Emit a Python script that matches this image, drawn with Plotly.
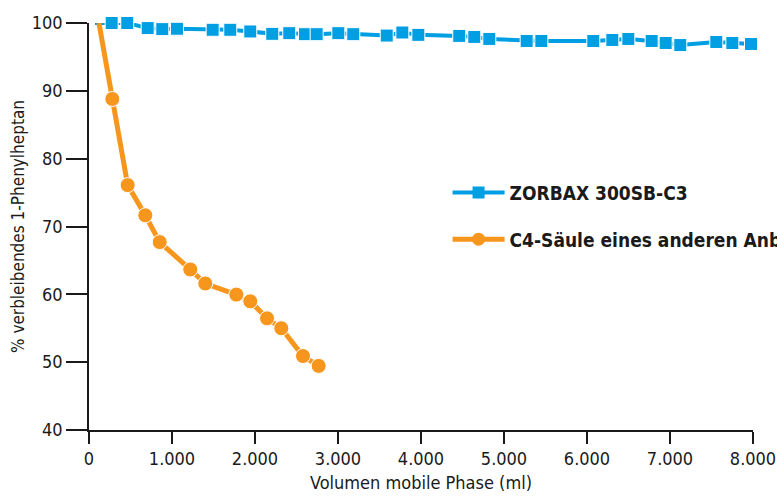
import plotly.graph_objects as go

# Data
zorbax_x = [72, 273, 461, 707, 883, 1060, 1490, 1702, 1943, 2208, 2413, 2602, 2743, 3004, 3184,
            3587, 3775, 3968, 4461, 4642, 4823, 5273, 5450, 6076, 6305, 6498, 6779, 6948, 7124,
            7558, 7751, 7976]
zorbax_y = [100.0, 100.0, 100.0, 99.25, 99.1, 99.15, 99.0, 99.0, 98.75, 98.4, 98.5, 98.35, 98.35,
            98.5, 98.35, 98.15, 98.6, 98.25, 98.1, 97.95, 97.65, 97.35, 97.35, 97.35, 97.5, 97.65,
            97.35, 97.05, 96.75, 97.2, 97.05, 96.9]

c4_x = [120, 281, 466, 678, 852, 1220, 1401, 1775, 1943, 2145, 2317, 2578, 2767]
c4_y = [100.0, 88.8, 76.1, 71.65, 67.7, 63.66, 61.6, 59.96, 58.97, 56.46, 55.0, 50.9, 49.45]

x_tickvals = [0, 1000, 2000, 3000, 4000, 5000, 6000, 7000, 8000]
x_ticktext = ["0", "1.000", "2.000", "3.000", "4.000", "5.000", "6.000", "7.000", "8.000"]
y_tickvals = [40, 50, 60, 70, 80, 90, 100]

series_names = ["ZORBAX 300SB-C3", "C4-Säule eines anderen Anbieters"]

BLUE = "#009FE3"
ORANGE = "#F7961D"
FONT = "DejaVu Sans Condensed, Liberation Sans Narrow, sans-serif"
TXT = "#1a1a1a"

fig = go.Figure()
fig.add_trace(go.Scatter(
    x=zorbax_x, y=zorbax_y, name=series_names[0], mode="lines+markers",
    line=dict(color=BLUE, width=4),
    marker=dict(symbol="square", size=[0] + [13] * (len(zorbax_x) - 1), color=BLUE, opacity=1),
    showlegend=False, cliponaxis=False,
))
fig.add_trace(go.Scatter(
    x=c4_x, y=c4_y, name=series_names[1], mode="lines+markers",
    line=dict(color=ORANGE, width=5),
    marker=dict(symbol="circle", size=[0] + [15] * (len(c4_x) - 1), color=ORANGE, opacity=1),
    showlegend=False, cliponaxis=False,
))
# legend entries
fig.add_trace(go.Scatter(
    x=[None], y=[None], name=series_names[0], mode="lines+markers",
    line=dict(color=BLUE, width=4), marker=dict(symbol="square", size=12, color=BLUE),
    legendgroup="a",
))
fig.add_trace(go.Scatter(
    x=[None], y=[None], name=series_names[1], mode="lines+markers",
    line=dict(color=ORANGE, width=5), marker=dict(symbol="circle", size=13, color=ORANGE),
    legendgroup="b",
))

fig.update_layout(
    width=777, height=496,
    margin=dict(l=89, r=24, t=23, b=66, autoexpand=False),
    paper_bgcolor="white", plot_bgcolor="white",
    font=dict(family=FONT, size=18, color=TXT),
    showlegend=True,
    legend=dict(
        x=0.54, y=0.63, xanchor="left", yanchor="top",
        font=dict(family=FONT, size=19, color=TXT, weight="bold"),
        itemwidth=52, tracegroupgap=19, bgcolor="rgba(0,0,0,0)",
    ),
    xaxis=dict(
        range=[0, 8000], tickvals=x_tickvals, ticktext=x_ticktext,
        showline=True, linecolor=TXT, linewidth=1.5,
        ticks="outside", ticklen=12, tickwidth=1.5, tickcolor=TXT,
        showgrid=False, zeroline=False, ticklabeloverflow="allow",
        title=dict(text="Volumen mobile Phase (ml)", font=dict(size=18), standoff=8),
    ),
    yaxis=dict(
        range=[40, 100], tickvals=y_tickvals,
        showline=True, linecolor=TXT, linewidth=1.5,
        ticks="outside", ticklen=21, tickwidth=1.5, tickcolor=TXT,
        showgrid=False, zeroline=False, ticklabeloverflow="allow",
        title=dict(text="% verbleibendes 1-Phenylheptan", font=dict(size=17), standoff=3),
    ),
)

fig.write_html("out.html")
